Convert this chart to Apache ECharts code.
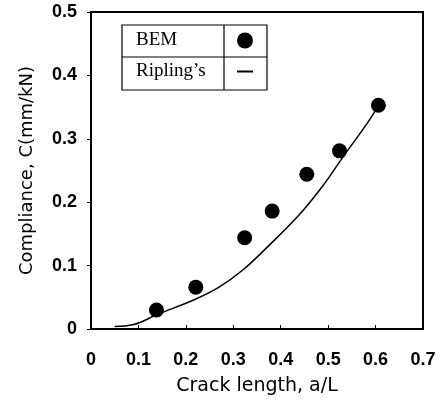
<!DOCTYPE html>
<html>
<head>
<meta charset="utf-8">
<script src="https://cdn.jsdelivr.net/npm/echarts@6/dist/echarts.min.js"></script>
<style>
    html, body { margin: 0; padding: 0; background: #fff; }
    #main { width: 441px; height: 401px; }
</style>
</head>
<body>
<div id="main"></div>
<script>
// BEM points
var bemX = [0.138, 0.221, 0.324, 0.382, 0.455, 0.524, 0.606];
var bemC = [0.030, 0.066, 0.144, 0.186, 0.244, 0.281, 0.353];
// Ripling's curve
var ripX = [0.05, 0.09, 0.14, 0.22, 0.27, 0.32, 0.37, 0.44, 0.49, 0.53, 0.58, 0.60];
var ripC = [0.004, 0.007, 0.023, 0.047, 0.066, 0.093, 0.128, 0.181, 0.227, 0.270, 0.322, 0.345];
var xTicks = [0, 0.1, 0.2, 0.3, 0.4, 0.5, 0.6, 0.7];
var yTicks = [0, 0.1, 0.2, 0.3, 0.4, 0.5];

var pairs = function (xs, ys) {
    var out = [];
    for (var i = 0; i < xs.length; i++) {
        out.push([xs[i], ys[i]]);
    }
    return out;
};

var tickFont = {color: '#000', fontFamily: 'Liberation Sans', fontWeight: 'bold', fontSize: 18};

var chart = echarts.init(document.getElementById('main'));
chart.setOption({
    animation: false,
    grid: {
        left: 91, right: 18, top: 12, bottom: 69,
        show: true, borderColor: '#000', borderWidth: 2
    },
    xAxis: {
        type: 'value',
        min: xTicks[0], max: xTicks[xTicks.length - 1], interval: 0.1,
        name: 'Crack length, a/L',
        nameLocation: 'middle',
        nameGap: 48,
        nameTextStyle: {color: '#000', fontFamily: 'DejaVu Sans', fontSize: 19},
        axisLine: {lineStyle: {color: '#000', width: 2}},
        axisTick: {inside: true, length: 4, lineStyle: {color: '#000'}},
        axisLabel: Object.assign({margin: 22}, tickFont),
        splitLine: {show: false}
    },
    yAxis: {
        type: 'value',
        min: yTicks[0], max: yTicks[yTicks.length - 1], interval: 0.1,
        name: 'Compliance, C(mm/kN)',
        nameLocation: 'middle',
        nameGap: 55,
        nameTextStyle: {color: '#000', fontFamily: 'DejaVu Sans', fontSize: 18},
        axisLine: {lineStyle: {color: '#000', width: 2}},
        axisTick: {length: 4, lineStyle: {color: '#000'}},
        axisLabel: Object.assign({margin: 14}, tickFont),
        splitLine: {show: false}
    },
    legend: {
        orient: 'vertical',
        left: 136, top: 31,
        padding: 0,
        align: 'right',
        itemWidth: 16, itemHeight: 16,
        itemGap: 12,
        formatter: '{t|{name}}',
        textStyle: {
            color: '#000', fontFamily: 'Liberation Serif', fontSize: 19,
            rich: {t: {width: 96, align: 'left', fontFamily: 'Liberation Serif', fontSize: 19, lineHeight: 20}}
        },
        data: [
            {name: 'BEM', icon: 'circle'},
            {name: 'Ripling\u2019s', itemStyle: {opacity: 0}}
        ]
    },
    graphic: [
        {type: 'rect', shape: {x: 122, y: 25, width: 145, height: 65}, style: {fill: 'none', stroke: '#000', lineWidth: 1.2}},
        {type: 'line', shape: {x1: 224, y1: 25, x2: 224, y2: 90}, style: {stroke: '#000', lineWidth: 1.2}},
        {type: 'line', shape: {x1: 122, y1: 57, x2: 267, y2: 57}, style: {stroke: '#000', lineWidth: 1.2}}
    ],
    series: [
        {
            name: 'BEM',
            type: 'scatter',
            symbol: 'circle',
            symbolSize: 15,
            itemStyle: {color: '#000', opacity: 1},
            data: pairs(bemX, bemC)
        },
        {
            name: 'Ripling\u2019s',
            type: 'line',
            smooth: 0.4,
            symbol: 'none',
            lineStyle: {color: '#000', width: 1.5},
            itemStyle: {color: '#000'},
            data: pairs(ripX, ripC)
        }
    ]
});
</script>
</body>
</html>
